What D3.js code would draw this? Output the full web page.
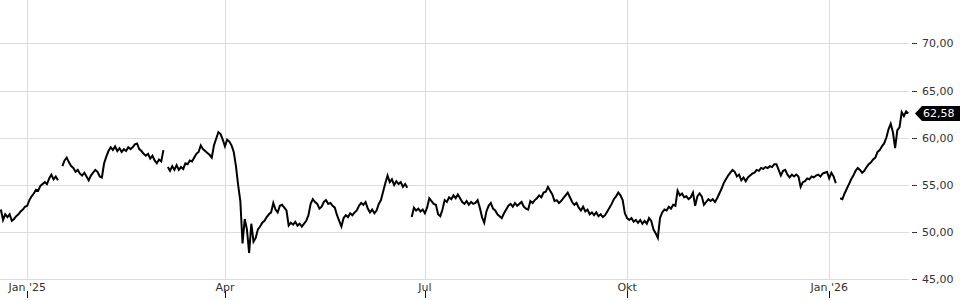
<!DOCTYPE html>
<html><head><meta charset="utf-8">
<script src="https://cdn.jsdelivr.net/npm/d3@7"></script>
<style>html,body{margin:0;padding:0;background:#fff;} svg{display:block;font-family:"DejaVu Sans",sans-serif;}</style>
</head><body><svg id="c" width="960" height="300"></svg>
<script>
// one close per calendar day starting at startDate (null = no data / gap)
const startDate = "2024-12-20";
const closes = [
52.4,51.3,51.9,51.6,51.9,51.2,51.4,51.7,51.9,52.2,
52.4,52.7,52.8,53.4,53.8,54.1,54.5,54.4,54.9,55.1,
55.3,55.1,55.7,56.1,55.6,55.9,55.5,null,57.0,57.6,
57.9,57.4,57.0,56.8,56.4,56.6,56.2,56.0,56.3,55.9,
55.5,56.0,56.3,56.6,56.4,55.9,55.8,57.3,58.0,58.6,
59.0,58.7,59.1,58.6,58.9,58.5,58.8,58.6,59.0,58.8,
59.0,59.3,59.4,58.8,58.6,58.3,58.1,58.3,57.8,58.1,
57.6,57.3,57.7,57.5,58.7,null,56.9,56.5,57.0,56.6,
57.1,56.6,56.9,56.7,57.3,57.2,57.6,57.5,57.9,58.3,
58.5,59.2,58.8,58.6,58.4,58.2,57.9,59.2,59.9,60.6,
60.4,59.8,59.1,59.8,59.6,59.2,58.5,57.0,55.0,53.3,
48.8,51.4,50.3,47.8,50.9,49.0,49.4,50.3,50.6,51.0,
51.2,51.6,51.9,52.1,53.1,52.4,52.1,52.8,52.9,52.6,
52.3,50.7,51.0,50.8,51.1,50.7,50.9,50.6,50.9,51.2,
51.8,53.0,53.5,53.2,53.0,52.5,52.7,53.2,53.4,53.0,
53.1,52.8,52.6,51.8,51.2,50.6,51.5,51.8,51.6,52.0,
51.8,52.1,52.3,52.8,53.1,52.9,53.2,52.5,52.1,52.4,
52.0,52.3,53.0,53.4,54.3,55.2,56.0,55.3,55.6,55.0,
55.4,55.1,55.3,54.8,55.1,54.7,null,51.6,52.6,52.3,
52.5,52.2,52.4,52.0,52.6,53.6,53.3,53.0,52.9,51.9,
51.7,52.4,53.4,53.2,53.7,53.5,53.9,53.6,54.0,53.6,
53.2,53.0,53.3,52.9,53.2,53.0,53.1,53.4,52.6,51.6,
51.0,52.2,52.8,53.1,52.5,52.3,51.9,51.7,51.5,52.0,
52.4,52.8,53.0,52.7,53.1,52.8,53.0,53.2,52.7,52.5,
52.4,53.3,53.1,53.4,53.6,53.9,53.7,54.2,54.3,54.8,
54.4,54.0,53.3,53.4,53.1,53.3,53.6,53.9,54.2,53.7,
53.2,52.9,53.1,52.6,52.3,52.7,52.2,52.4,51.9,52.1,
51.8,52.1,51.7,51.9,51.6,51.8,52.2,52.6,53.0,53.5,
53.8,54.2,53.9,53.4,52.0,51.5,51.3,51.5,51.1,51.3,
51.0,51.3,50.9,51.2,50.9,51.5,51.2,50.3,49.9,49.4,
51.5,52.1,52.4,52.3,52.7,52.5,52.9,52.8,54.4,53.9,
54.1,53.7,53.8,53.5,53.7,54.2,52.8,53.8,54.1,53.8,
52.9,53.2,53.5,53.3,53.5,53.2,53.6,54.1,54.6,55.2,
55.6,56.0,56.3,56.6,56.4,55.9,56.1,55.5,55.8,55.4,
55.8,56.0,56.2,56.3,56.6,56.5,56.8,56.7,56.9,56.8,
57.0,56.9,57.2,57.2,56.6,56.0,56.5,56.6,56.1,55.8,
56.1,55.9,56.1,55.9,54.8,55.3,55.4,55.7,55.6,55.9,
55.8,56.0,56.1,55.9,56.2,56.3,56.4,55.7,56.3,55.9,
55.2,null,53.6,53.5,54.1,54.6,55.1,55.6,56.0,56.5,
56.8,56.6,56.3,56.5,56.9,57.2,57.4,57.7,57.9,58.5,
58.7,59.1,59.4,60.0,60.9,61.5,60.6,58.9,60.8,61.1,
62.7,62.3,62.8,62.58
];
const lastPrice = 62.58;
const yTicks = [45, 50, 55, 60, 65, 70];
const xTickDates = ["2025-01-01", "2025-04-01", "2025-07-01", "2025-10-01", "2026-01-01"];
const xTickLabels = ["Jan '25", "Apr", "Jul", "Okt", "Jan '26"];

const parse = d3.timeParse("%Y-%m-%d");
const start = parse(startDate);
const data = closes.map((v, i) => ({ date: d3.timeDay.offset(start, i), value: v }));

const plotLeft = 0, plotRight = 909, plotTop = 0, plotBottom = 279.4;
const x = d3.scaleTime().domain([parse("2025-01-01"), parse("2026-01-01")]).range([27.2, 829.2]);
const y = d3.scaleLinear().domain([45, 70]).range([279.4, 43.4]);

const loc = d3.formatLocale({ decimal: ",", thousands: ".", grouping: [3], currency: ["", " €"] });
const fmt = loc.format(".2f");

const svg = d3.select("#c");
const grid = "#dcdcdc";

// horizontal grid
svg.append("g").selectAll("line").data(yTicks).join("line")
  .attr("x1", plotLeft).attr("x2", plotRight)
  .attr("y1", d => Math.round(y(d)) + 0.5).attr("y2", d => Math.round(y(d)) + 0.5)
  .attr("stroke", grid).attr("stroke-width", 1);

// vertical grid
const xt = xTickDates.map(parse);
svg.append("g").selectAll("line").data(xt).join("line")
  .attr("x1", d => Math.round(x(d)) + 0.5).attr("x2", d => Math.round(x(d)) + 0.5)
  .attr("y1", plotTop).attr("y2", plotBottom)
  .attr("stroke", grid).attr("stroke-width", 1);

// x ticks + labels
const xg = svg.append("g");
xg.selectAll("line").data(xt).join("line")
  .attr("x1", d => Math.round(x(d)) + 0.5).attr("x2", d => Math.round(x(d)) + 0.5)
  .attr("y1", 291).attr("y2", 298).attr("stroke", "#111").attr("stroke-width", 1);
xg.selectAll("text").data(xt).join("text")
  .attr("x", d => x(d)).attr("y", 290.5).attr("text-anchor", "middle")
  .attr("font-size", 11).attr("fill", "#333")
  .text((d, i) => xTickLabels[i]);

// y ticks + labels (right)
const yg = svg.append("g");
yg.selectAll("line").data(yTicks).join("line")
  .attr("x1", 912).attr("x2", 917)
  .attr("y1", d => Math.round(y(d)) + 0.5).attr("y2", d => Math.round(y(d)) + 0.5)
  .attr("stroke", "#333").attr("stroke-width", 1);
yg.selectAll("text").data(yTicks).join("text")
  .attr("x", 922).attr("y", d => y(d)).attr("dy", "0.36em")
  .attr("font-size", 11).attr("fill", "#333")
  .text(d => fmt(d));

// price line
svg.append("defs").append("clipPath").attr("id", "clip")
  .append("rect").attr("x", plotLeft).attr("y", plotTop).attr("width", plotRight - plotLeft + 2).attr("height", plotBottom - plotTop);
const line = d3.line().defined(d => d.value != null).x(d => x(d.date)).y(d => y(d.value));
svg.append("path").datum(data).attr("clip-path", "url(#clip)")
  .attr("d", line).attr("fill", "none").attr("stroke", "#000").attr("stroke-width", 2)
  .attr("stroke-linejoin", "miter");

// last price badge
const ly = y(lastPrice);
svg.append("path")
  .attr("d", `M915,${ly} L922,${ly - 7.5} L960,${ly - 7.5} L960,${ly + 7.5} L922,${ly + 7.5} Z`)
  .attr("fill", "#000");
svg.append("text").attr("x", 923).attr("y", ly).attr("dy", "0.36em")
  .attr("font-size", 11).attr("fill", "#fff").text(fmt(lastPrice));
</script></body></html>
